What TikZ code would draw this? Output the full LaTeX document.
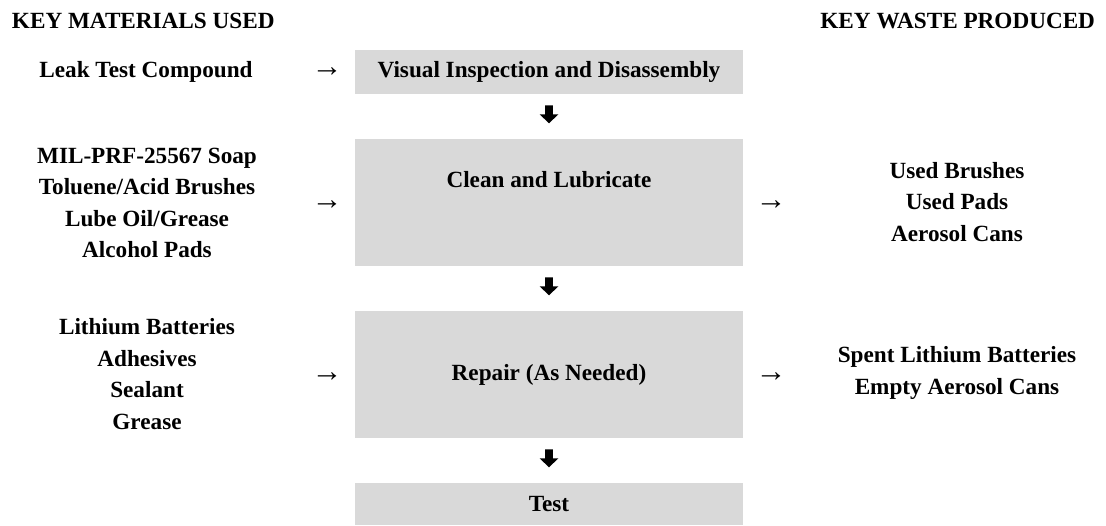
\documentclass[tikz,border=0pt]{standalone}
\usepackage{fontspec}
\setmainfont{Liberation Serif}
\usetikzlibrary{calc}
\definecolor{boxgray}{HTML}{D9D9D9}
\begin{document}
\begin{tikzpicture}[x=1pt,y=-1pt,
  every node/.style={font=\fontsize{23.2}{31.5}\selectfont\bfseries, inner sep=0pt, outer sep=0pt},
  stepbox/.style={fill=boxgray, minimum width=388pt, anchor=north},
  listtext/.style={align=center},
  flowarr/.style={font=\fontsize{31}{31}\selectfont\mdseries},
  downarrow/.pic={\fill (-3.85,-9) -- (3.85,-9) -- (3.85,0) -- (9.5,0) -- (0,9) -- (-9.5,0) -- (-3.85,0) -- cycle;}]
\useasboundingbox (0,0) rectangle (1106,525);

% column headings
\node[anchor=base west] (hm) at (12,28) {KEY MATERIALS USED};
\node[anchor=base east] (hw) at (1095,28) {KEY WASTE PRODUCED};

% process steps
\node[stepbox, minimum height=44pt] (b1) at (549,50) {Visual Inspection and Disassembly};
\node[stepbox, minimum height=127pt] (b2) at (549,139) {};
\node[anchor=base] (b2t) at (549,187) {Clean and Lubricate};
\node[stepbox, minimum height=127pt] (b3) at (549,311) {Repair (As Needed)};
\node[stepbox, minimum height=42pt] (b4) at (549,483) {Test};

% materials used
\node[anchor=base] (m1) at (146,77) {Leak Test Compound};
\node[listtext] (m2) at (147,203) {MIL-PRF-25567 Soap\\Toluene/Acid Brushes\\Lube Oil/Grease\\Alcohol Pads};
\node[listtext] (m3) at (147,374) {Lithium Batteries\\Adhesives\\Sealant\\Grease};

% waste produced
\node[listtext] (w2) at (957,202) {Used Brushes\\Used Pads\\Aerosol Cans};
\node[listtext] (w3) at (957,373) {Spent Lithium Batteries\\Empty Aerosol Cans};

% inflow / outflow arrows
\node[flowarr] (a1) at (327,72) {→};
\node[flowarr] (a2) at (327,205) {→};
\node[flowarr] (a3) at (327,377) {→};
\node[flowarr] (a4) at (771,205) {→};
\node[flowarr] (a5) at (771,377) {→};

% flow between steps
\path (b1.south) -- (b2.north) pic[pos=0.45]{downarrow};
\path (b2.south) -- (b3.north) pic[pos=0.45]{downarrow};
\path (b3.south) -- (b4.north) pic[pos=0.45]{downarrow};
\end{tikzpicture}
\end{document}
